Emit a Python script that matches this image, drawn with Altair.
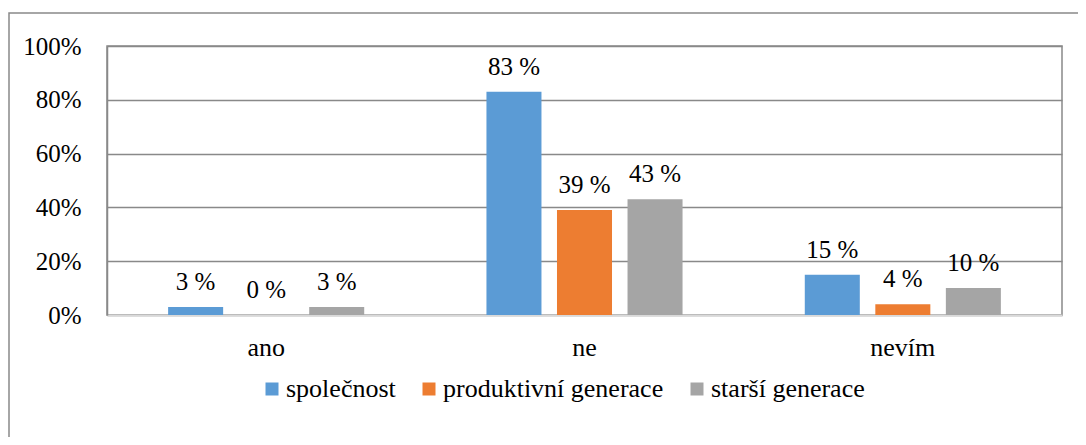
import altair as alt
import pandas as pd

categories = ["ano", "ne", "nevím"]
series = ["společnost", "produktivní generace", "starší generace"]
spolecnost = [3, 83, 15]
produktivni = [0, 39, 4]
starsi = [3, 43, 10]
colors = ["#5B9BD5", "#ED7D31", "#A5A5A5"]
y_ticks = [0, 20, 40, 60, 80, 100]

rows = []
for s, vals in zip(series, [spolecnost, produktivni, starsi]):
    for c, v in zip(categories, vals):
        rows.append({"kategorie": c, "skupina": s, "hodnota": v, "popisek": f"{v} %"})
df = pd.DataFrame(rows)

FONT = "'Times New Roman', 'Liberation Serif', 'DejaVu Serif', serif"
W, H = 955, 269

x_enc = alt.X("kategorie:N", sort=categories,
              scale=alt.Scale(paddingInner=0.384, paddingOuter=0.192),
              axis=alt.Axis(title=None, labelAngle=0, ticks=False, labelPadding=19,
                            labelFontSize=26, labelFont=FONT, labelColor="#000000",
                            domainColor="#D9D9D9", domainWidth=2, grid=False))
xoff = alt.XOffset("skupina:N", sort=series, scale=alt.Scale(paddingInner=0.22, paddingOuter=0))
y_enc = alt.Y("hodnota:Q", scale=alt.Scale(domain=[0, 100], nice=False),
              axis=alt.Axis(title=None, values=y_ticks, labelExpr="datum.value + '%'",
                            ticks=False, labelPadding=26, labelFontSize=25, labelFont=FONT,
                            labelColor="#000000", domainColor="#898989", domainWidth=1.5,
                            gridColor="#898989", gridWidth=1.5, gridOpacity=1))

base = alt.Chart(df)

bars = base.mark_bar().encode(
    x=x_enc, xOffset=xoff, y=y_enc,
    color=alt.Color("skupina:N", sort=series,
                    scale=alt.Scale(domain=series, range=colors),
                    legend=alt.Legend(title=None, orient="none", legendX=152, legendY=330,
                                      direction="horizontal", symbolType="square",
                                      symbolSize=169, symbolStrokeWidth=0, padding=0,
                                      labelFontSize=26, labelFont=FONT, labelColor="#000000",
                                      labelOffset=1, columnPadding=20, labelLimit=400))
)

labels = base.mark_text(baseline="alphabetic", dy=-17, fontSize=25, font=FONT, color="#000000").encode(
    x=x_enc, xOffset=xoff, y=y_enc, text="popisek:N"
)

frame = alt.Chart(pd.DataFrame({"f": [0]})).mark_rect(
    filled=False, stroke="#898989", strokeWidth=1.5
).encode(x=alt.value(-98), x2=alt.value(1010), y=alt.value(-33), y2=alt.value(420))

chart = alt.layer(frame, bars, labels).properties(
    width=W, height=H,
    autosize=alt.AutoSizeParams(type="none"),
    padding={"left": 99, "top": 38, "right": 16, "bottom": 122},
).configure_view(stroke="#898989", strokeWidth=1.5)

chart.save("out.html", embed_options={"renderer": "svg", "actions": False})
